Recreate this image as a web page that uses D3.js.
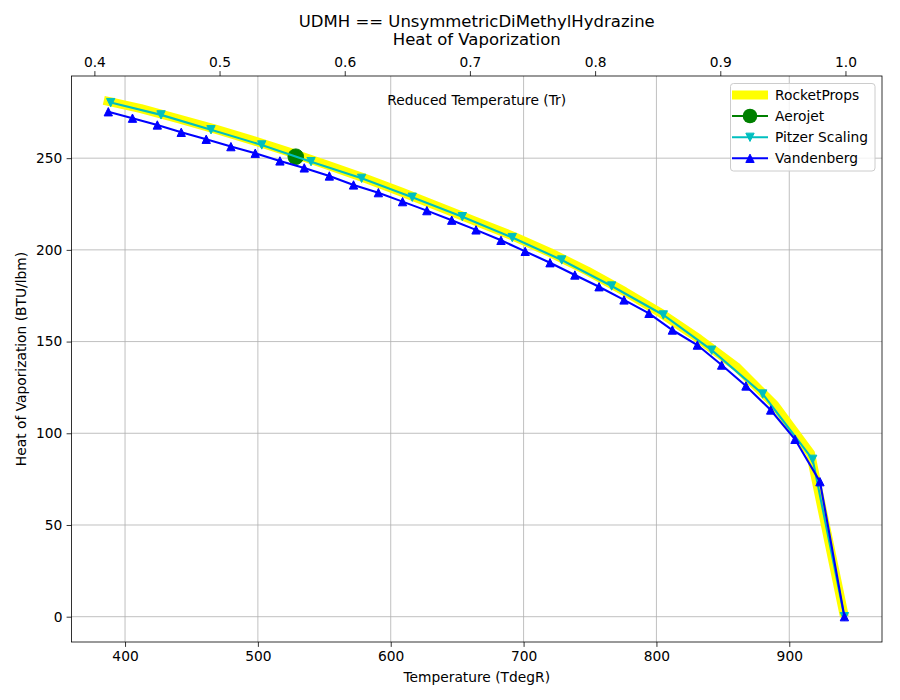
<!DOCTYPE html>
<html>
<head>
<meta charset="utf-8">
<script src="https://cdn.jsdelivr.net/npm/d3@7"></script>
<style>
  body { margin: 0; background: #fff; }
  text { font-family: "DejaVu Sans", sans-serif; }
</style>
</head>
<body>
<svg id="chart" width="900" height="700"></svg>
<script>
// ---------- data ----------
const Tc = 942.3; // critical temperature, degR (Tr = T / Tc)

const T_rp = [384, 412, 440, 468, 496, 524, 552, 580, 608, 636, 664, 692, 720, 748, 776, 804, 832, 860, 889, 916, 941.5];
const H_rp = [281.5, 277.0, 271.5, 265.8, 259.7, 253.2, 246.3, 239.2, 231.6, 223.6, 215.5, 207.5, 198.5, 188.5, 177.3, 165.2, 151.5, 136.4, 115.5, 89.0, 0];

const T_aj = [528.5];
const H_aj = [250.8];

const T_pz = [389.2, 427.1, 464.7, 502.9, 540.0, 578.1, 616.2, 653.9, 691.5, 728.7, 766.3, 805.2, 841.6, 880.0, 917.6, 941.5];
const H_pz = [280.3, 273.6, 265.5, 257.2, 248.1, 239.0, 228.7, 218.1, 206.7, 194.5, 180.3, 164.5, 145.3, 121.4, 85.8, 0];

const T_vb = [387.4, 405.6, 424.3, 442.3, 461.1, 479.7, 498.0, 516.6, 534.9, 553.8, 572.0, 590.7, 608.9, 627.2, 645.9, 664.2,
              683.0, 701.2, 719.9, 738.6, 756.8, 775.6, 794.4, 812.0, 830.8, 849.1, 867.4, 886.0, 904.3, 923.1, 941.5];
const H_vb = [275.3, 271.8, 268.1, 264.1, 260.3, 256.3, 252.7, 248.5, 244.7, 240.3, 235.4, 231.2, 226.3, 221.4, 216.2, 210.9,
              205.2, 199.2, 193.0, 186.3, 179.9, 172.7, 165.4, 156.3, 148.1, 137.2, 125.8, 112.7, 96.7, 73.6, 0];

const xTicks = [400, 500, 600, 700, 800, 900];
const yTicks = [0, 50, 100, 150, 200, 250];
const trTicks = [0.4, 0.5, 0.6, 0.7, 0.8, 0.9, 1.0];

const seriesNames = ["RocketProps", "Aerojet", "Pitzer Scaling", "Vandenberg"];

// ---------- layout ----------
const L = 71.5, R = 882, Tp = 76, B = 642;
const svg = d3.select("#chart");
svg.append("rect").attr("width", 900).attr("height", 700).attr("fill", "#fff");

const x = d3.scaleLinear().domain([359.7, 969.8]).range([L, R]);
const y = d3.scaleLinear().domain([-13.8, 294.8]).range([B, Tp]);
const xTop = d3.scaleLinear().domain([359.7 / Tc, 969.8 / Tc]).range([L, R]);

// grid
const grid = svg.append("g");
xTicks.forEach(t => grid.append("line")
  .attr("x1", x(t)).attr("x2", x(t)).attr("y1", Tp).attr("y2", B)
  .attr("stroke", "#b0b0b0").attr("stroke-width", 0.8));
yTicks.forEach(t => grid.append("line")
  .attr("x1", L).attr("x2", R).attr("y1", y(t)).attr("y2", y(t))
  .attr("stroke", "#b0b0b0").attr("stroke-width", 0.8));

svg.append("defs").append("clipPath").attr("id", "clip")
  .append("rect").attr("x", L).attr("y", Tp).attr("width", R - L).attr("height", B - Tp);

const plot = svg.append("g").attr("clip-path", "url(#clip)");
const line = d3.line().x(d => x(d[0])).y(d => y(d[1]));

// RocketProps (thick yellow)
plot.append("path").datum(T_rp.map((t, i) => [t, H_rp[i]]))
  .attr("d", line).attr("fill", "none").attr("stroke", "#ffff00")
  .attr("stroke-width", 9).attr("stroke-linejoin", "round");

// Aerojet
plot.selectAll(".aj").data(T_aj.map((t, i) => [t, H_aj[i]])).enter().append("circle")
  .attr("cx", d => x(d[0])).attr("cy", d => y(d[1])).attr("r", 7.8)
  .attr("fill", "#008000").attr("stroke", "#008000").attr("stroke-width", 1);

const triSize = 4.17;
const triUp = `M0,${-triSize}L${-triSize},${triSize}L${triSize},${triSize}Z`;
const triDown = `M0,${triSize}L${-triSize},${-triSize}L${triSize},${-triSize}Z`;

// Pitzer
const pz = T_pz.map((t, i) => [t, H_pz[i]]);
plot.append("path").datum(pz).attr("d", line).attr("fill", "none")
  .attr("stroke", "#00bfbf").attr("stroke-width", 2.1);
plot.selectAll(".pz").data(pz).enter().append("path")
  .attr("d", triDown).attr("transform", d => `translate(${x(d[0])},${y(d[1])})`)
  .attr("fill", "#00bfbf").attr("stroke", "#00bfbf").attr("stroke-width", 1);

// Vandenberg
const vb = T_vb.map((t, i) => [t, H_vb[i]]);
plot.append("path").datum(vb).attr("d", line).attr("fill", "none")
  .attr("stroke", "#0000ff").attr("stroke-width", 2.1);
plot.selectAll(".vb").data(vb).enter().append("path")
  .attr("d", triUp).attr("transform", d => `translate(${x(d[0])},${y(d[1])})`)
  .attr("fill", "#0000ff").attr("stroke", "#0000ff").attr("stroke-width", 1);

// axes
function styleAxis(g) {
  g.select(".domain").remove();
  g.selectAll(".tick line").attr("stroke", "#000").attr("stroke-width", 0.8);
  g.selectAll(".tick text").attr("fill", "#000").style("font-size", "13.8px")
    .style("font-family", "DejaVu Sans, sans-serif");
}
svg.append("g").attr("transform", `translate(0,${B})`)
  .call(d3.axisBottom(x).tickValues(xTicks).tickSize(4.9).tickPadding(4.2).tickFormat(d3.format("d")))
  .call(styleAxis);
svg.append("g").attr("transform", `translate(${L},0)`)
  .call(d3.axisLeft(y).tickValues(yTicks).tickSize(4.9).tickPadding(4.2).tickFormat(d3.format("d")))
  .call(styleAxis);
svg.append("g").attr("transform", `translate(0,${Tp})`)
  .call(d3.axisTop(xTop).tickValues(trTicks).tickSize(4.9).tickPadding(4.2).tickFormat(d3.format(".1f")))
  .call(styleAxis);

// frame
svg.append("rect").attr("x", L).attr("y", Tp).attr("width", R - L).attr("height", B - Tp)
  .attr("fill", "none").attr("stroke", "#000").attr("stroke-width", 0.8);

// labels
svg.append("text").attr("x", (L + R) / 2).attr("y", 27).attr("text-anchor", "middle")
  .style("font-size", "16.5px").text("UDMH == UnsymmetricDiMethylHydrazine");
svg.append("text").attr("x", (L + R) / 2).attr("y", 45).attr("text-anchor", "middle")
  .style("font-size", "16.5px").text("Heat of Vaporization");
svg.append("text").attr("x", (L + R) / 2).attr("y", 105).attr("text-anchor", "middle")
  .style("font-size", "13.8px").text("Reduced Temperature (Tr)");
svg.append("text").attr("x", (L + R) / 2).attr("y", 682).attr("text-anchor", "middle")
  .style("font-size", "13.8px").text("Temperature (TdegR)");
svg.append("text").attr("transform", `translate(26,${(Tp + B) / 2}) rotate(-90)`)
  .attr("text-anchor", "middle").style("font-size", "13.8px").text("Heat of Vaporization (BTU/lbm)");

// legend
const lg = svg.append("g");
lg.append("rect").attr("x", 730.5).attr("y", 83.5).attr("width", 144.5).attr("height", 87.5)
  .attr("rx", 3).attr("fill", "#fff").attr("fill-opacity", 0.8)
  .attr("stroke", "#cccccc").attr("stroke-width", 1);
const rows = [95, 116, 137.3, 158.3];
const lx1 = 732, lx2 = 768, lxm = 750;
lg.append("line").attr("x1", lx1).attr("x2", lx2).attr("y1", rows[0]).attr("y2", rows[0])
  .attr("stroke", "#ffff00").attr("stroke-width", 9);
lg.append("line").attr("x1", lx1).attr("x2", lx2).attr("y1", rows[1]).attr("y2", rows[1])
  .attr("stroke", "#008000").attr("stroke-width", 2.1);
lg.append("circle").attr("cx", lxm).attr("cy", rows[1]).attr("r", 7.3).attr("fill", "#008000");
lg.append("line").attr("x1", lx1).attr("x2", lx2).attr("y1", rows[2]).attr("y2", rows[2])
  .attr("stroke", "#00bfbf").attr("stroke-width", 2.1);
lg.append("path").attr("d", triDown).attr("transform", `translate(${lxm},${rows[2]})`)
  .attr("fill", "#00bfbf").attr("stroke", "#00bfbf").attr("stroke-width", 1);
lg.append("line").attr("x1", lx1).attr("x2", lx2).attr("y1", rows[3]).attr("y2", rows[3])
  .attr("stroke", "#0000ff").attr("stroke-width", 2.1);
lg.append("path").attr("d", triUp).attr("transform", `translate(${lxm},${rows[3]})`)
  .attr("fill", "#0000ff").attr("stroke", "#0000ff").attr("stroke-width", 1);
seriesNames.forEach((n, i) => lg.append("text").attr("x", 775).attr("y", rows[i] + 5)
  .style("font-size", "13.8px").text(n));
</script>
</body>
</html>
